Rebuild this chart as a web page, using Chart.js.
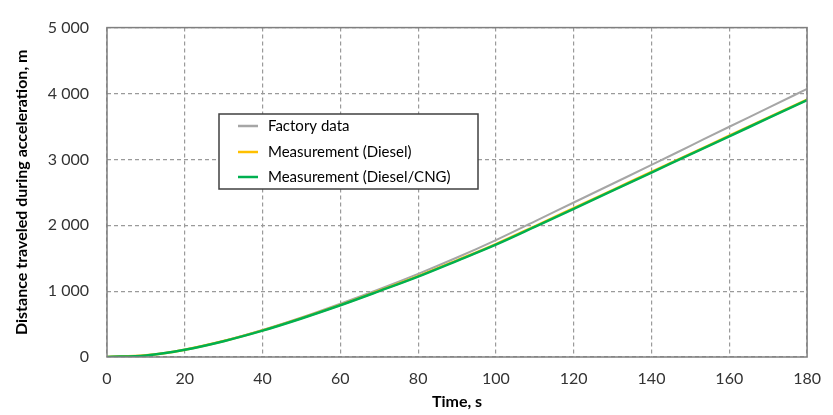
<!DOCTYPE html>
<html>
<head>
<meta charset="utf-8">
<script src="https://cdn.jsdelivr.net/npm/chart.js@4.4.1/dist/chart.umd.min.js"></script>
<style>
  html, body { margin: 0; padding: 0; background: #ffffff; }
  #wrap { width: 833px; height: 415px; position: relative; }
</style>
</head>
<body>
<div id="wrap"><canvas id="chart" width="833" height="415"></canvas></div>
<script>
// Time after start of acceleration, s
const timeS = [0, 10, 20, 30, 40, 50, 60, 70, 80, 90, 100, 110, 120, 130, 140, 150, 160, 170, 180];

// Distance travelled, m
const factoryData      = [0, 25, 112, 245, 410, 600, 810, 1030, 1262, 1510, 1775, 2060, 2345, 2630, 2915, 3205, 3495, 3780, 4070];
const measDiesel       = [0, 25, 111, 242, 404, 590, 791, 1007, 1228, 1468, 1714, 1984, 2259, 2534, 2809, 3084, 3359, 3634, 3906];
const measDieselCng    = [0, 24, 110, 240, 400, 585, 785, 1000, 1220, 1460, 1705, 1975, 2250, 2525, 2800, 3075, 3350, 3625, 3900];

const seriesNames = ['Factory data', 'Measurement (Diesel)', 'Measurement (Diesel/CNG)'];
const seriesColors = ['#a6a6a6', '#ffc000', '#00b050'];

const xTickLabels = ['0', '20', '40', '60', '80', '100', '120', '140', '160', '180'];
const yTickLabels = ['0', '1 000', '2 000', '3 000', '4 000', '5 000'];

const FONT = 'Lato, "Open Sans", sans-serif';

function points(ys) {
  return timeS.map((t, i) => ({ x: t, y: ys[i] }));
}

// Frame round the plotting area
const frame = {
  id: 'frame',
  afterDatasetsDraw(chart) {
    const { ctx, chartArea: a } = chart;
    ctx.save();
    ctx.strokeStyle = '#7f7f7f';
    ctx.lineWidth = 1.5;
    ctx.strokeRect(a.left, a.top, a.right - a.left, a.bottom - a.top);
    ctx.restore();
  }
};

// Boxed legend placed inside the plot
const boxLegend = {
  id: 'boxLegend',
  afterDraw(chart) {
    const { ctx } = chart;
    const x0 = 219, y0 = 114, w = 259, h = 75;
    ctx.save();
    ctx.fillStyle = '#ffffff';
    ctx.fillRect(x0, y0, w, h);
    ctx.strokeStyle = '#404040';
    ctx.lineWidth = 1.5;
    ctx.strokeRect(x0, y0, w, h);
    ctx.font = '15px ' + FONT;
    ctx.textBaseline = 'middle';
    ctx.fillStyle = '#000000';
    const rows = [126, 152, 177];
    chart.data.datasets.forEach((ds, i) => {
      const y = rows[i];
      ctx.strokeStyle = ds.borderColor;
      ctx.lineWidth = 2.5;
      ctx.beginPath();
      ctx.moveTo(238, y);
      ctx.lineTo(258, y);
      ctx.stroke();
      ctx.fillText(ds.label, 268, y);
    });
    ctx.restore();
  }
};

const datasets = [factoryData, measDiesel, measDieselCng].map((vals, i) => ({
  label: seriesNames[i],
  data: points(vals),
  borderColor: seriesColors[i],
  backgroundColor: seriesColors[i],
  borderWidth: i === 0 ? 2 : 2.5,
  pointRadius: 0,
  cubicInterpolationMode: 'monotone',
  order: 3 - i
}));

const gridOpts = { color: '#9a9a9a', lineWidth: 1.2, drawTicks: false, tickLength: 0 };

new Chart(document.getElementById('chart'), {
  type: 'line',
  data: { datasets },
  options: {
    responsive: false,
    animation: false,
    layout: { padding: { top: 18, right: 18, left: 0, bottom: 0 } },
    plugins: { legend: { display: false }, tooltip: { enabled: false } },
    scales: {
      x: {
        type: 'linear',
        min: 0, max: 180,
        ticks: {
          stepSize: 20,
          padding: 12,
          color: '#333333',
          font: { family: FONT, size: 16 },
          callback: (v) => xTickLabels[v / 20]
        },
        grid: gridOpts,
        border: { display: false, dash: [4, 3] },
        title: {
          display: true, text: 'Time, s', color: '#000000',
          font: { family: FONT, size: 16, weight: 'bold' },
          padding: { top: 0, bottom: 4 }
        },
        afterFit: (s) => { s.height = 58; }
      },
      y: {
        min: 0, max: 5000,
        ticks: {
          stepSize: 1000,
          padding: 18,
          color: '#333333',
          font: { family: FONT, size: 16 },
          callback: (v) => yTickLabels[v / 1000]
        },
        grid: gridOpts,
        border: { display: false, dash: [4, 3] },
        title: {
          display: true, text: 'Distance traveled during acceleration, m', color: '#000000',
          font: { family: FONT, size: 16, weight: 'bold' },
          padding: { top: 12, bottom: 0 }
        },
        afterFit: (s) => { s.width = 107; }
      }
    }
  },
  plugins: [frame, boxLegend]
});
</script>
</body>
</html>
